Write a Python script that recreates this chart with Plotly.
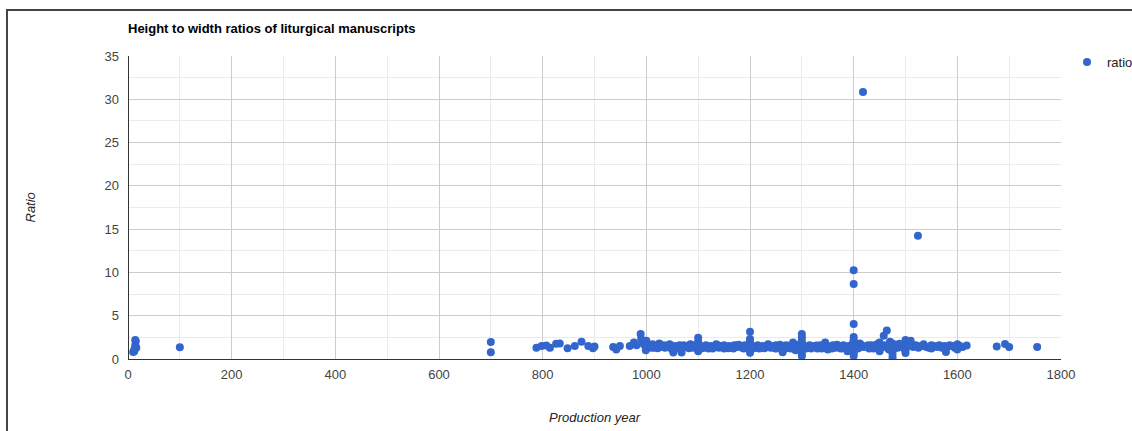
import plotly.graph_objects as go

# ---- data ----
early_years = [10, 12, 12, 13, 14, 14, 15, 16, 100, 700, 700]
early_ratio = [0.8, 0.9, 1.0, 1.2, 1.6, 2.2, 2.05, 1.3, 1.35, 1.95, 0.78]

y800_years = [788, 798, 807, 814, 826, 833, 848, 862, 875, 888, 897, 900,
              936, 942, 949, 968, 976, 981, 989, 990, 995, 999]
y800_ratio = [1.3, 1.5, 1.55, 1.3, 1.75, 1.8, 1.25, 1.5, 2.0, 1.5, 1.25, 1.45,
              1.4, 1.1, 1.5, 1.5, 1.9, 1.6, 2.9, 2.3, 1.7, 1.0]

y1000_years = [1000, 1000, 1000, 1000, 1000, 1004, 1008, 1012, 1015, 1020, 1025, 1028,
               1032, 1036, 1040, 1045, 1048, 1052, 1055, 1060, 1064, 1068, 1070, 1075,
               1080, 1085, 1090, 1095, 1100, 1100, 1100, 1100, 1100, 1100,
               1010, 1022, 1038, 1050, 1058, 1072, 1082, 1092]
y1000_ratio = [2.1, 1.8, 1.5, 1.3, 1.15, 1.6, 1.4, 1.7, 1.3, 1.5, 1.8, 1.4,
               1.6, 1.3, 1.5, 1.7, 1.2, 0.75, 1.5, 1.4, 1.6, 0.75, 1.3, 1.5,
               1.4, 1.7, 1.3, 1.5, 2.45, 2.0, 1.7, 1.4, 1.1, 0.9,
               1.3, 1.25, 1.55, 1.45, 1.2, 1.6, 1.25, 1.6]

y1100_years = [1105, 1110, 1115, 1120, 1125, 1130, 1135, 1140, 1145, 1150, 1150, 1155,
               1160, 1165, 1170, 1175, 1180, 1185, 1190, 1195,
               1200, 1200, 1200, 1200, 1200, 1200, 1200, 1200,
               1108, 1118, 1128, 1138, 1148, 1158, 1168, 1178, 1188, 1198]
y1100_ratio = [1.5, 1.3, 1.6, 1.2, 1.5, 1.4, 1.7, 1.3, 1.5, 1.6, 1.2, 1.4,
               1.5, 1.3, 1.6, 1.4, 1.5, 1.3, 1.6, 1.4,
               3.15, 2.3, 2.0, 1.8, 1.6, 1.3, 1.1, 0.73,
               1.25, 1.45, 1.2, 1.55, 1.35, 1.25, 1.2, 1.65, 1.2, 1.55]

y1200_years = [1205, 1210, 1215, 1220, 1225, 1230, 1235, 1240, 1245, 1250, 1250, 1255,
               1260, 1263, 1265, 1270, 1275, 1280, 1283, 1285, 1290, 1295,
               1300, 1300, 1300, 1300, 1300, 1300, 1300, 1300, 1300,
               1208, 1218, 1228, 1238, 1248, 1258, 1268, 1278, 1288, 1298]
y1200_ratio = [1.5, 1.4, 1.6, 1.3, 1.5, 1.4, 1.7, 1.3, 1.5, 1.6, 1.2, 1.4,
               1.5, 0.77, 1.4, 1.6, 1.3, 1.5, 1.9, 1.2, 1.6, 1.4,
               2.9, 2.5, 2.1, 1.8, 1.5, 1.2, 0.9, 0.5, 0.35,
               1.25, 1.2, 1.25, 1.55, 1.25, 1.65, 1.2, 1.2, 1.0, 1.8]

y1300_years = [1305, 1310, 1315, 1320, 1325, 1330, 1335, 1340, 1345, 1350, 1350, 1355,
               1360, 1365, 1370, 1375, 1380, 1385, 1388, 1390, 1395,
               1400, 1400, 1400, 1400, 1400, 1400, 1400, 1400, 1400, 1400, 1400, 1400,
               1308, 1318, 1328, 1338, 1348, 1358, 1368, 1378, 1392, 1398]
y1300_ratio = [1.5, 1.3, 1.6, 1.4, 1.5, 1.2, 1.6, 1.4, 1.9, 1.5, 1.1, 1.4,
               1.6, 1.3, 1.5, 1.2, 1.6, 1.4, 0.9, 1.5, 1.3,
               10.25, 8.65, 4.05, 2.55, 2.2, 1.9, 1.6, 1.4, 1.2, 0.9, 0.6, 0.35,
               1.2, 1.2, 1.55, 1.2, 1.25, 1.2, 1.65, 1.25, 1.1, 1.75]

y1400_years = [1418, 1405, 1410, 1412, 1415, 1420, 1425, 1430, 1435, 1440, 1445,
               1450, 1450, 1450, 1450, 1455, 1458, 1460, 1464, 1465, 1470, 1470,
               1475, 1475, 1475, 1475, 1475, 1480, 1485, 1490, 1495,
               1500, 1500, 1500, 1500, 1500, 1500,
               1408, 1428, 1438, 1448, 1468, 1478, 1488, 1498]
y1400_ratio = [30.85, 1.5, 1.3, 1.8, 1.6, 1.4, 1.5, 1.2, 1.6, 1.4, 1.7,
               1.5, 1.2, 0.9, 1.9, 1.4, 2.7, 1.6, 3.3, 1.3, 1.5, 2.0,
               0.2, 0.6, 1.0, 1.4, 1.8, 1.6, 1.3, 1.5, 1.4,
               2.2, 1.9, 1.6, 1.3, 1.0, 0.7,
               1.2, 1.6, 1.2, 1.2, 1.1, 1.2, 1.75, 1.15]

y1500_years = [1524, 1505, 1510, 1510, 1515, 1520, 1525, 1530, 1535, 1540, 1545,
               1550, 1550, 1555, 1560, 1565, 1570, 1575, 1578, 1580, 1585, 1590,
               1595, 1600, 1600, 1600, 1605, 1610, 1618,
               1676, 1692, 1700, 1754]
y1500_ratio = [14.25, 1.5, 1.7, 2.1, 1.4, 1.6, 1.3, 1.5, 1.7, 1.4, 1.3,
               1.6, 1.2, 1.5, 1.4, 1.6, 1.3, 1.5, 0.8, 1.4, 1.6, 1.5,
               1.3, 1.7, 1.4, 1.1, 1.5, 1.4, 1.55,
               1.45, 1.73, 1.4, 1.4]

years = (early_years + y800_years + y1000_years + y1100_years +
         y1200_years + y1300_years + y1400_years + y1500_years)
ratios = (early_ratio + y800_ratio + y1000_ratio + y1100_ratio +
          y1200_ratio + y1300_ratio + y1400_ratio + y1500_ratio)

x_ticks = [0, 200, 400, 600, 800, 1000, 1200, 1400, 1600, 1800]
y_ticks = [0, 5, 10, 15, 20, 25, 30, 35]

FONT = "Arial, Liberation Sans, sans-serif"

fig = go.Figure()
fig.add_trace(go.Scatter(
    x=years, y=ratios, mode="markers", name="ratio",
    marker=dict(size=8, color="#3366cc", line=dict(width=0)),
))

W, H = 1132, 431
PL, PR, PT, PB = 128.5, 1061, 56, 359.3   # plot area in reference pixels
L = int(round(PL))
T = int(round(PT))
R = int(round(W - PR))
B = int(round(H - PB))
pw, ph = W - L - R, H - T - B

def px_x(p):
    return (p - L) / pw

def px_y(p):
    return (H - B - p) / ph

fig.update_layout(
    width=W, height=H,
    margin=dict(l=L, r=R, t=T, b=B, pad=0, autoexpand=False),
    paper_bgcolor="white", plot_bgcolor="white",
    font=dict(family=FONT, size=13, color="#444444"),
    title=dict(text="<b>Height to width ratios of liturgical manuscripts</b>",
               font=dict(family=FONT, size=13, color="#000000"),
               x=128 / W, xanchor="left", xref="container",
               y=1 - 28 / H, yanchor="middle", yref="container"),
    showlegend=True,
    legend=dict(x=1067 / W, y=1 - 62 / H, xref="container", yref="container",
                xanchor="left", yanchor="middle",
                font=dict(family=FONT, size=13, color="#222222"),
                bgcolor="rgba(0,0,0,0)", borderwidth=0),
    xaxis=dict(range=[0, 1800], tickvals=x_ticks, showgrid=True,
               gridcolor="#cccccc", gridwidth=1,
               minor=dict(dtick=100, showgrid=True, gridcolor="#ebebeb"),
               zeroline=True, zerolinecolor="#333333", zerolinewidth=1,
               showline=False, ticks="", ticklabelstandoff=6,
               tickfont=dict(family=FONT, size=13, color="#444444")),
    yaxis=dict(range=[0, 35], tickvals=y_ticks, showgrid=True,
               gridcolor="#cccccc", gridwidth=1,
               minor=dict(dtick=2.5, showgrid=True, gridcolor="#ebebeb"),
               zeroline=True, zerolinecolor="#333333", zerolinewidth=1,
               showline=False, ticks="", ticklabelstandoff=8,
               tickfont=dict(family=FONT, size=13, color="#444444")),
    annotations=[
        dict(text="<i>Ratio</i>", xref="paper", yref="paper",
             x=px_x(30), y=0.5, textangle=-90, showarrow=False,
             font=dict(family=FONT, size=13, color="#222222"),
             xanchor="center", yanchor="middle"),
        dict(text="<i>Production year</i>", xref="paper", yref="paper",
             x=px_x(595), y=px_y(417), showarrow=False,
             font=dict(family=FONT, size=13, color="#222222"),
             xanchor="center", yanchor="middle"),
    ],
    shapes=[
        dict(type="rect", xref="paper", yref="paper",
             x0=px_x(7), x1=px_x(1160), y0=px_y(460), y1=px_y(10),
             line=dict(color="#444444", width=2), fillcolor="rgba(0,0,0,0)",
             layer="above"),
    ],
)

fig.write_html(
    "out.html",
    config={"displayModeBar": False},
    post_script="document.body.style.margin='0';document.body.style.overflow='hidden';",
)
